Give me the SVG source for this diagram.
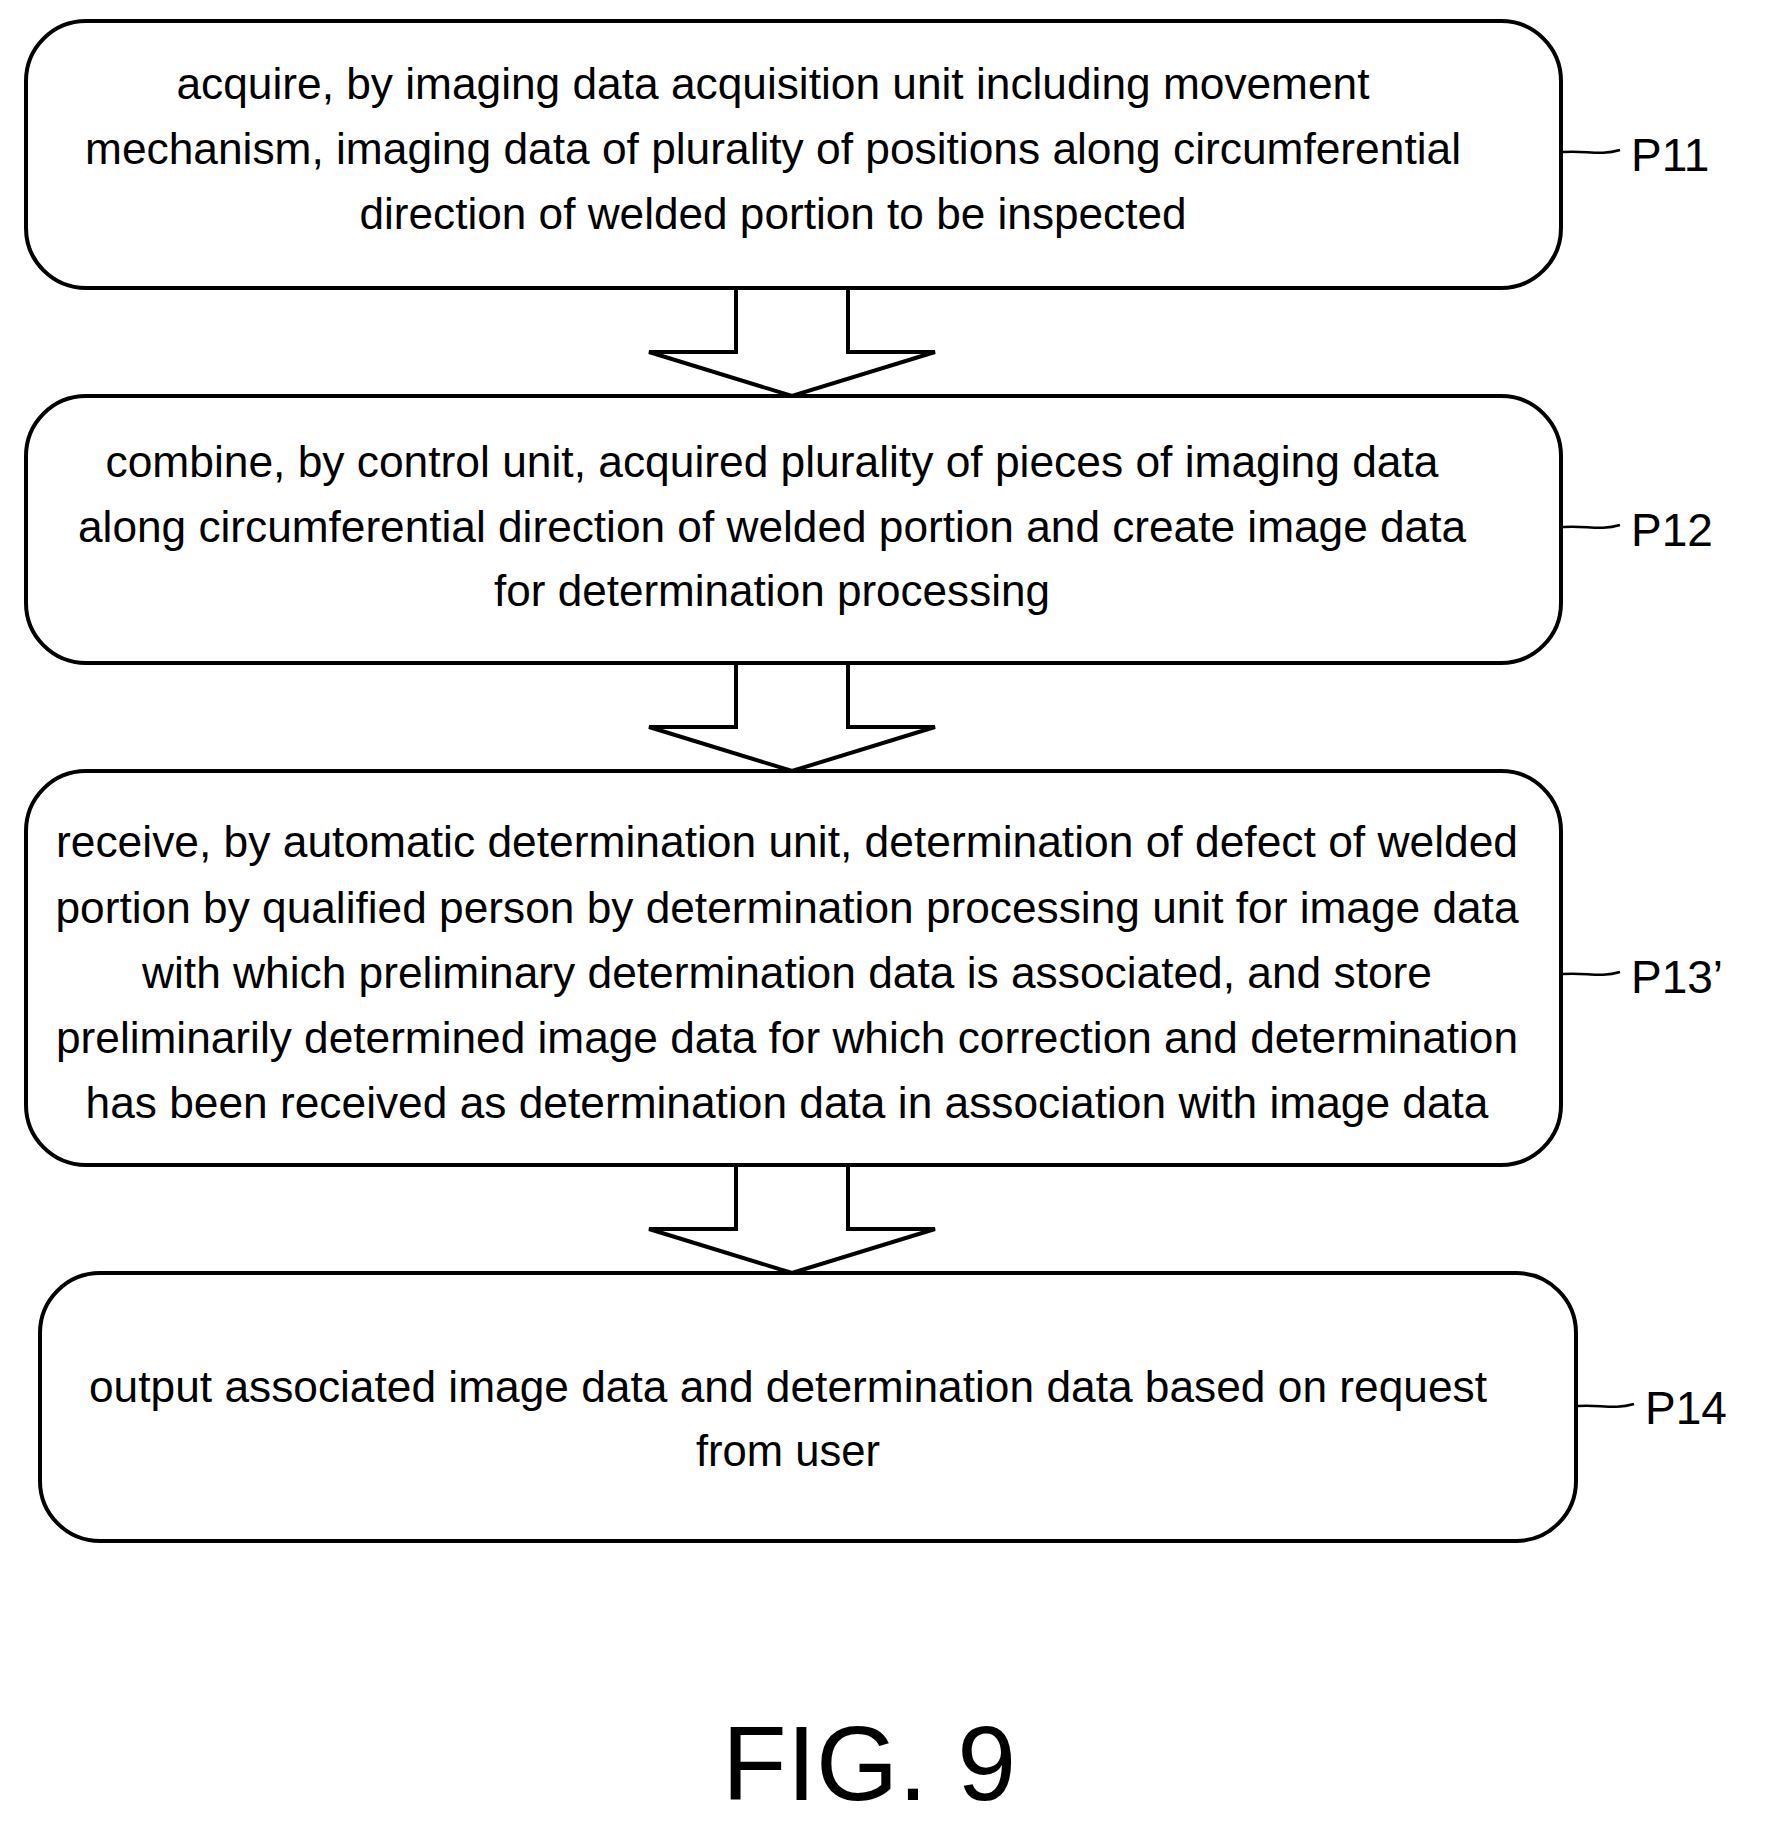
<svg xmlns="http://www.w3.org/2000/svg" width="1765" height="1825" viewBox="0 0 1765 1825">
<style>
.b{fill:#fff;stroke:#000;stroke-width:4}
.t{font-family:"Liberation Sans",Arial,sans-serif;font-size:44px;text-anchor:middle;fill:#000}
.l{font-family:"Liberation Sans",Arial,sans-serif;font-size:46px;fill:#000}
.c{fill:none;stroke:#000;stroke-width:4}
.k{fill:none;stroke:#000;stroke-width:2.5}
</style>
<rect width="1765" height="1825" fill="#fff"/>
<g id="P11"><rect class="b" x="26" y="21" width="1535" height="267" rx="60"/>
<text class="t" x="773" y="99" textLength="1193" lengthAdjust="spacingAndGlyphs">acquire, by imaging data acquisition unit including movement</text>
<text class="t" x="773" y="164" textLength="1376" lengthAdjust="spacingAndGlyphs">mechanism, imaging data of plurality of positions along circumferential</text>
<text class="t" x="773" y="229" textLength="827" lengthAdjust="spacingAndGlyphs">direction of welded portion to be inspected</text>
<path class="k" d="M1563 152 C1585 150 1600 156 1620 150"/><text class="l" x="1631" y="171">P11</text></g>
<g id="P12"><rect class="b" x="26" y="396" width="1535" height="267" rx="60"/>
<text class="t" x="772" y="477" textLength="1333" lengthAdjust="spacingAndGlyphs">combine, by control unit, acquired plurality of pieces of imaging data</text>
<text class="t" x="772" y="542" textLength="1388" lengthAdjust="spacingAndGlyphs">along circumferential direction of welded portion and create image data</text>
<text class="t" x="772" y="606" textLength="556" lengthAdjust="spacingAndGlyphs">for determination processing</text>
<path class="k" d="M1563 527 C1585 525 1600 531 1620 525"/><text class="l" x="1631" y="546">P12</text></g>
<g id="P13"><rect class="b" x="26" y="771" width="1535" height="394" rx="60"/>
<text class="t" x="787" y="857" textLength="1462" lengthAdjust="spacingAndGlyphs">receive, by automatic determination unit, determination of defect of welded</text>
<text class="t" x="787" y="923" textLength="1463" lengthAdjust="spacingAndGlyphs">portion by qualified person by determination processing unit for image data</text>
<text class="t" x="787" y="988" textLength="1290" lengthAdjust="spacingAndGlyphs">with which preliminary determination data is associated, and store</text>
<text class="t" x="787" y="1053" textLength="1462" lengthAdjust="spacingAndGlyphs">preliminarily determined image data for which correction and determination</text>
<text class="t" x="787" y="1118" textLength="1403" lengthAdjust="spacingAndGlyphs">has been received as determination data in association with image data</text>
<path class="k" d="M1563 974 C1585 972 1600 978 1620 972"/><text class="l" x="1631" y="993">P13’</text></g>
<g id="P14"><rect class="b" x="40" y="1273" width="1536" height="268" rx="60"/>
<text class="t" x="788" y="1402" textLength="1398" lengthAdjust="spacingAndGlyphs">output associated image data and determination data based on request</text>
<text class="t" x="788" y="1466" textLength="184" lengthAdjust="spacingAndGlyphs">from user</text>
<path class="k" d="M1578 1406 C1598 1404 1614 1410 1634 1404"/><text class="l" x="1645" y="1424">P14</text></g>
<g id="connectors">
<path class="c" d="M736 290 V352 H649 L792 396 L935 352 H848 V290"/>
<path class="c" d="M736 665 V727 H649 L792 771 L935 727 H848 V665"/>
<path class="c" d="M736 1167 V1229 H649 L792 1273 L935 1229 H848 V1167"/>
</g>
<text x="722" y="1800" font-family="Liberation Sans,Arial,sans-serif" font-size="106" textLength="294" lengthAdjust="spacingAndGlyphs">FIG. 9</text>
</svg>
